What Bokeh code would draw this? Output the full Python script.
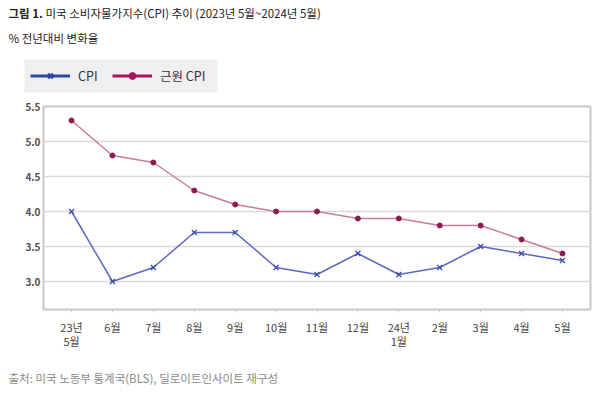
from bokeh.plotting import figure
from bokeh.layouts import column
from bokeh.models import (ColumnDataSource, Range1d, FixedTicker, Label, Legend, LegendItem,
                          BoxAnnotation, CustomJSTickFormatter)
from bokeh.embed import file_html
from bokeh.resources import INLINE

months = ["23년\n5월", "6월", "7월", "8월", "9월", "10월", "11월", "12월",
          "24년\n1월", "2월", "3월", "4월", "5월"]
cpi = [4.0, 3.0, 3.2, 3.7, 3.7, 3.2, 3.1, 3.4, 3.1, 3.2, 3.5, 3.4, 3.3]
core_cpi = [5.3, 4.8, 4.7, 4.3, 4.1, 4.0, 4.0, 3.9, 3.9, 3.8, 3.8, 3.6, 3.4]
y_ticks = [3.0, 3.5, 4.0, 4.5, 5.0, 5.5]

title_bold = "그림 1."
title_rest = "미국 소비자물가지수(CPI) 추이 (2023년 5월~2024년 5월)"
subtitle = "% 전년대비 변화율"
source_note = "출처: 미국 노동부 통계국(BLS), 딜로이트인사이트 재구성"
series_names = ["CPI", "근원 CPI"]

FONT = "Noto Sans CJK KR"
W = 600
idx = list(range(len(months)))
src = ColumnDataSource(dict(x=idx, cpi=cpi, core=core_cpi))


def no_align(f):
    if "frame_align" in f.properties():
        f.frame_align = False
    return f


def blank(height):
    f = figure(width=W, height=height, output_backend="svg", toolbar_location=None,
               x_range=Range1d(0, W), y_range=Range1d(height, 0),
               x_axis_type=None, y_axis_type=None, min_border=0,
               min_border_left=0, min_border_right=0, min_border_top=0, min_border_bottom=0)
    f.xgrid.visible = False
    f.ygrid.visible = False
    f.outline_line_color = None
    f.background_fill_color = "white"
    f.border_fill_color = "white"
    return no_align(f)


# ---------- header: title, subtitle, legend ----------
top = blank(100)
txt = dict(text_font=FONT, text_baseline="middle", text_color="#222222")
top.add_layout(Label(x=8, y=12, text=title_bold, text_font_size="11.5px",
                     text_font_style="bold", **txt))
top.add_layout(Label(x=45, y=12, text=title_rest, text_font_size="11.5px", **txt))
top.add_layout(Label(x=8, y=37, text=subtitle, text_font_size="11.5px", **txt))

# grey legend panel
top.add_layout(BoxAnnotation(left=24, right=217, top=59, bottom=92, fill_color="#efefef",
                             fill_alpha=1, line_color=None, level="underlay"))

l1 = top.line("x", "cpi", source=src, line_color="#2c4aa8", line_width=3, visible=False)
m1 = top.scatter("x", "cpi", source=src, marker="x", size=9, line_color="#2c4aa8",
                 line_width=2.5, visible=False)
l2 = top.line("x", "core", source=src, line_color="#a5185f", line_width=3, visible=False)
m2 = top.scatter("x", "core", source=src, marker="circle", size=8, fill_color="#a5185f",
                 line_color="#a5185f", visible=False)
legend = Legend(items=[LegendItem(label=series_names[0], renderers=[l1, m1], index=0),
                       LegendItem(label=series_names[1], renderers=[l2, m2], index=0)],
                orientation="horizontal", location=(30, 15), click_policy="none",
                background_fill_alpha=0, border_line_color=None,
                glyph_width=40, glyph_height=17, label_height=17,
                label_standoff=8, spacing=14, padding=8, margin=0,
                label_text_font=FONT, label_text_font_size="12.5px",
                label_text_color="#333333")
top.add_layout(legend, "center")

# ---------- main chart ----------
p = figure(width=W, height=255, output_backend="svg", toolbar_location=None,
           x_range=Range1d(-0.685, len(months) - 1 + 0.685), y_range=Range1d(2.6, 5.5),
           min_border_left=43, min_border_right=10, min_border_top=6, min_border_bottom=46)
no_align(p)
p.outline_line_color = "#c8c8c8"
p.outline_line_width = 2
p.background_fill_color = "white"
p.border_fill_color = "white"

p.xgrid.visible = False
p.ygrid.grid_line_color = "#dadada"
p.ygrid.grid_line_width = 1.5
p.ygrid.ticker = FixedTicker(ticks=y_ticks)

p.yaxis.ticker = FixedTicker(ticks=y_ticks)
p.yaxis.axis_line_color = None
p.yaxis.major_tick_line_color = None
p.yaxis.major_tick_out = 0
p.yaxis.major_tick_in = 0
p.yaxis.minor_tick_line_color = None
p.yaxis.minor_tick_out = 0
p.yaxis.major_label_standoff = 3
p.yaxis.major_label_text_font = FONT
p.yaxis.major_label_text_font_size = "10px"
p.yaxis.major_label_text_font_style = "bold"
p.yaxis.major_label_text_color = "#505050"
p.yaxis.formatter = CustomJSTickFormatter(code="return tick.toFixed(1);")

p.xaxis.ticker = FixedTicker(ticks=idx)
p.xaxis.major_label_overrides = {i: m for i, m in zip(idx, months)}
p.xaxis.axis_line_color = None
p.xaxis.major_tick_line_color = "#d0d0d0"
p.xaxis.major_tick_out = 3
p.xaxis.major_tick_in = 0
p.xaxis.minor_tick_line_color = None
p.xaxis.minor_tick_out = 0
p.xaxis.major_label_standoff = 6
p.xaxis.major_label_text_font = FONT
p.xaxis.major_label_text_font_size = "11px"
p.xaxis.major_label_text_line_height = 0.9
p.xaxis.major_label_text_color = "#444444"

p.line("x", "core", source=src, line_color="#c87c9a", line_width=1.5)
p.scatter("x", "core", source=src, marker="circle", size=5, fill_color="#8e1a50",
          line_color="#8e1a50")
p.line("x", "cpi", source=src, line_color="#5a68c4", line_width=1.5)
p.scatter("x", "cpi", source=src, marker="x", size=7, line_color="#3b4eaa", line_width=1.3)

# ---------- footer: source ----------
bottom = blank(40)
bottom.add_layout(Label(x=8, y=22, text=source_note, text_font=FONT, text_font_size="11.5px",
                        text_baseline="middle", text_color="#8a8a8a"))

layout = column(top, p, bottom, spacing=0)
open("out.html", "w").write(file_html(layout, INLINE))
